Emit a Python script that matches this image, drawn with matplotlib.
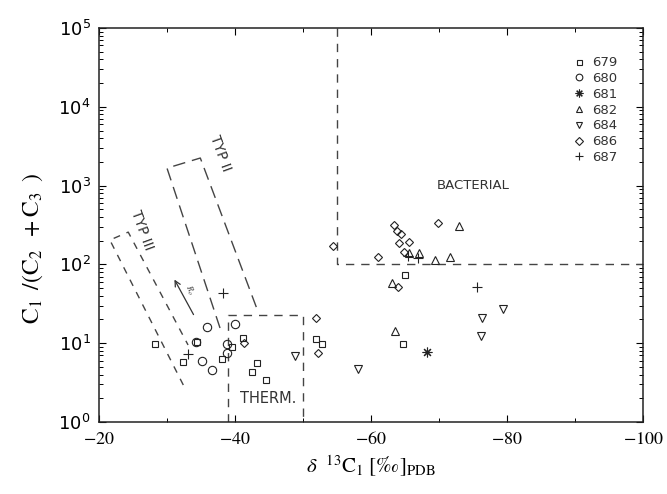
import matplotlib
matplotlib.use("Agg")
import matplotlib.pyplot as plt
from matplotlib.ticker import MultipleLocator, LogLocator, LogFormatterMathtext, NullFormatter

plt.rcParams['mathtext.fontset'] = 'stix'
plt.rcParams['font.family'] = ['DejaVu Sans']

# d13C (permil) and C1/(C2+C3) per site
x679 = [-28.2, -34.4, -32.4, -38.1, -39.6, -41.2, -43.2, -42.5, -44.6, -51.9, -52.8, -65.0, -64.7]
y679 = [9.8, 10.4, 5.8, 6.3, 9.0, 11.6, 5.6, 4.3, 3.4, 11.3, 9.8, 73, 9.8]
x680 = [-35.9, -40.0, -34.3, -35.1, -36.6, -38.8, -38.8]
y680 = [16, 17.5, 10.4, 5.9, 4.6, 9.8, 7.5]
x681 = [-68.2]
y681 = [7.7]
x682 = [-65.6, -67.1, -69.4, -71.6, -72.9, -63.1, -63.5]
y682 = [140, 140, 114, 124, 307, 58, 14.3]
x684 = [-48.8, -58.1, -76.3, -79.4, -76.2]
y684 = [6.9, 4.7, 21, 27, 12.3]
x686 = [-54.4, -61.0, -63.4, -63.8, -64.4, -64.1, -65.6, -64.9, -64.0, -69.9, -41.3, -51.9, -52.2]
y686 = [171, 124, 316, 265, 243, 187, 192, 144, 52, 335, 10.1, 21, 7.5]
x687 = [-65.4, -66.9, -75.6, -33.1, -38.2]
y687 = [128, 120, 52, 7.3, 43]

# field boundaries
typ3_x = [-32.4, -21.6, -24.3, -33.1]
typ3_y = [2.95, 204, 257, 9.5]
typ2_x = [-37.8, -30.0, -34.9, -43.4]
typ2_y = [15.6, 1667, 2240, 25]
therm_x = [-39, -39, -50, -50]
therm_y = [1, 23, 23, 1]
bact_x = [-55, -55, -100]
bact_y = [1e5, 100, 100]

fig = plt.figure(figsize=(6.67, 4.94), dpi=100)
ax = fig.add_axes([0.1484, 0.1457, 0.8156, 0.7976])
ax.set_yscale('log')
ax.set_xlim(-20, -100)
ax.set_ylim(1, 1e5)

lc = '#444444'
ax.plot(typ3_x, typ3_y, color=lc, lw=1.0, ls=(0, (5, 5)))
ax.plot(typ2_x, typ2_y, color=lc, lw=1.0, ls=(0, (9, 5)))
ax.plot(therm_x, therm_y, color=lc, lw=1.0, ls=(0, (6, 5)))
ax.plot(bact_x, bact_y, color=lc, lw=1.0, ls=(0, (6, 5)))

ax.annotate('', xy=(-30.9, 69), xytext=(-34.1, 21.5),
            arrowprops=dict(arrowstyle='->', color='#333333', lw=0.9))
ax.text(-33.3, 47, r'$R_o$', fontsize=6, rotation=-65, ha='center', va='center', color='#333333')

ax.text(-37.8, 2594, 'TYP II', fontsize=10, rotation=-70, ha='center', va='center', color='#333333')
ax.text(-26.3, 273, 'TYP III', fontsize=10, rotation=-70, ha='center', va='center', color='#333333')
ax.text(-69.7, 1000, 'BACTERIAL', fontsize=9.5, ha='left', va='center', color='#333333')
ax.text(-44.9, 2.0, 'THERM.', fontsize=10.5, ha='center', va='center', color='#333333')

mk = dict(ls='none', mfc='none', mec='#222222', mew=0.8)
ax.plot(x679, y679, marker='s', ms=4.5, label='679', **mk)
ax.plot(x680, y680, marker='o', ms=6, label='680', **mk)
ax.plot(x681, y681, marker=(8, 2, 0), ms=7, label='681', **mk)
ax.plot(x682, y682, marker='^', ms=6, label='682', **mk)
ax.plot(x684, y684, marker='v', ms=6, label='684', **mk)
ax.plot(x686, y686, marker='D', ms=4.5, label='686', **mk)
ax.plot(x687, y687, marker='+', ms=7, label='687', **mk)

leg = ax.legend(loc='upper left', bbox_to_anchor=(0.86, 0.945), frameon=False,
                fontsize=9.5, handlelength=0.8, handletextpad=0.6, labelspacing=0.21,
                markerscale=0.8, borderpad=0)
for t in leg.get_texts():
    t.set_color('#333333')

ax.xaxis.set_major_locator(MultipleLocator(20))
ax.xaxis.set_minor_locator(MultipleLocator(10))
ax.xaxis.set_major_formatter(plt.FuncFormatter(lambda v, p: r'$%d$' % v))
ax.yaxis.set_major_locator(LogLocator(base=10, numticks=10))
ax.yaxis.set_minor_locator(LogLocator(base=10, subs=range(2, 10), numticks=20))
ax.yaxis.set_major_formatter(LogFormatterMathtext())
ax.yaxis.set_minor_formatter(NullFormatter())
ax.tick_params(which='both', direction='in', top=True, right=True, labelsize=13, pad=6)
ax.tick_params(which='major', length=5, width=0.8)
ax.tick_params(which='minor', length=3, width=0.7)
for s in ax.spines.values():
    s.set_linewidth(1.1)
    s.set_color('#222222')

ax.set_xlabel(r'$\delta\ \ ^{13}\mathrm{C}_{1}\ [‰]_{\mathrm{PDB}}$', fontsize=15, labelpad=4)
ax.set_ylabel(r'$\mathrm{C}_{1}\;\;/(\mathrm{C}_{2}\;\;+\mathrm{C}_{3}\;\;)$', fontsize=17, labelpad=10)
ax.yaxis.set_label_coords(-0.10, 0.44)

fig.savefig('out.png', dpi=100)
